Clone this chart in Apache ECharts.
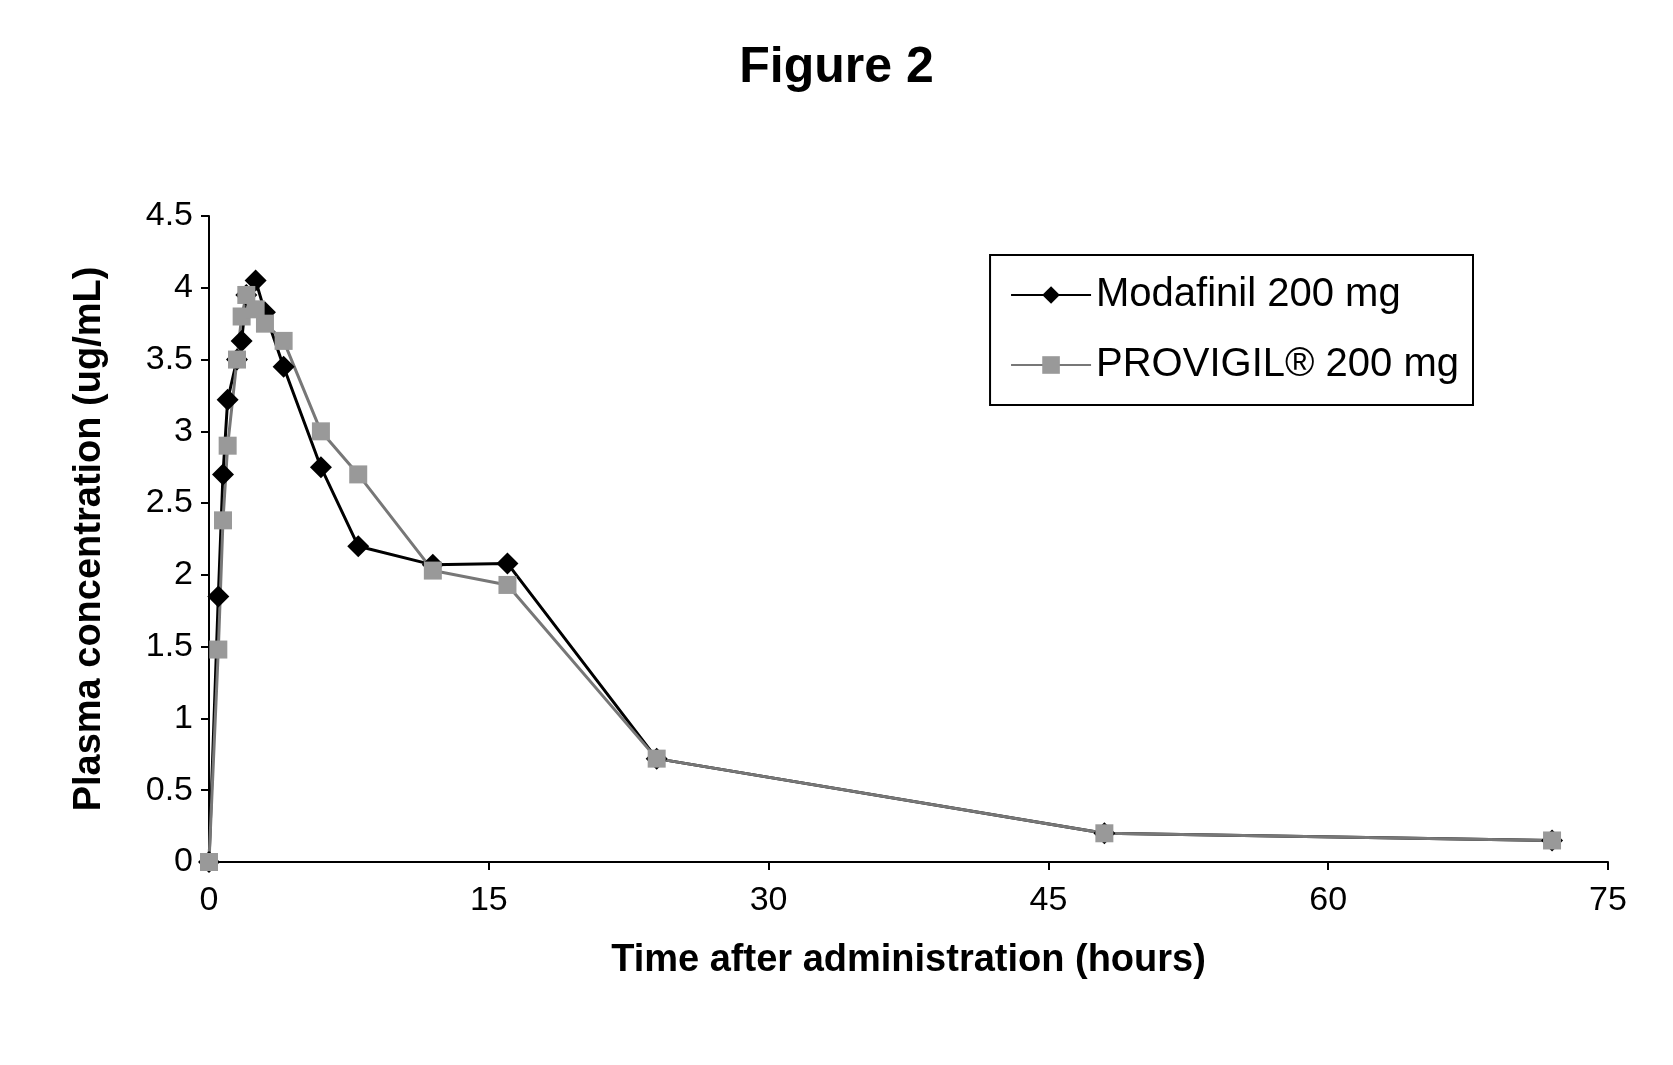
<!DOCTYPE html>
<html><head><meta charset="utf-8">
<script src="https://cdn.jsdelivr.net/npm/echarts@6/dist/echarts.min.js"></script>
<style>html,body{margin:0;background:#fff}#c{width:1673px;height:1065px}</style>
</head><body><div id="c"></div>
<script>
const modaTime = [0, 0.5, 0.75, 1, 1.5, 1.75, 2, 2.5, 3, 4, 6, 8, 12, 16, 24, 48, 72]
const modaConc = [0, 1.85, 2.7, 3.22, 3.5, 3.63, 3.95, 4.05, 3.83, 3.45, 2.75, 2.2, 2.07, 2.08, 0.72, 0.2, 0.15]
const provTime = [0, 0.5, 0.75, 1, 1.5, 1.75, 2, 2.5, 3, 4, 6, 8, 12, 16, 24, 48, 72]
const provConc = [0, 1.48, 2.38, 2.9, 3.5, 3.8, 3.95, 3.85, 3.75, 3.63, 3.0, 2.7, 2.03, 1.93, 0.72, 0.2, 0.15]

const zip = (xs, ys) => xs.map((x, i) => [x, ys[i]])
const font = 'Liberation Sans'

const chart = echarts.init(document.getElementById('c'))
chart.setOption({
  animation: false,
  textStyle: { fontFamily: font, color: '#000' },
  title: {
    text: 'Figure 2', left: 'center', top: 38,
    textStyle: { fontSize: 50, fontWeight: 'bold', fontFamily: font, color: '#000' },
  },
  legend: {
    right: 200, top: 255, orient: 'vertical',
    borderColor: '#000', borderWidth: 2, padding: [20, 14, 20, 20],
    itemGap: 30, itemWidth: 80, itemHeight: 22,
    textStyle: { fontSize: 40, fontFamily: font, color: '#000' },
    data: ['Modafinil 200 mg', 'PROVIGIL® 200 mg'],
  },
  grid: { left: 209, right: 65, top: 216, bottom: 203 },
  xAxis: {
    type: 'value', min: 0, max: 75, interval: 15,
    name: 'Time after administration (hours)', nameLocation: 'middle', nameGap: 80,
    nameTextStyle: { fontSize: 38, fontWeight: 'bold', fontFamily: font, color: '#000' },
    axisLine: { lineStyle: { color: '#000', width: 2 } },
    axisTick: { lineStyle: { color: '#000', width: 2 }, length: 8 },
    axisLabel: { fontSize: 34, color: '#000', margin: 22 },
    splitLine: { show: false },
  },
  yAxis: {
    type: 'value', min: 0, max: 4.5, interval: 0.5,
    name: 'Plasma concentration (ug/mL)', nameLocation: 'middle', nameGap: 100,
    nameTextStyle: { fontSize: 38, fontWeight: 'bold', fontFamily: font, color: '#000' },
    axisLine: { show: true, lineStyle: { color: '#000', width: 2 } },
    axisTick: { show: true, lineStyle: { color: '#000', width: 2 }, length: 8 },
    axisLabel: { fontSize: 34, color: '#000', margin: 16 },
    splitLine: { show: false },
  },
  series: [
    {
      name: 'Modafinil 200 mg', type: 'line', data: zip(modaTime, modaConc),
      symbol: 'diamond', symbolSize: 22,
      lineStyle: { color: '#000', width: 3 }, itemStyle: { color: '#000' },
    },
    {
      name: 'PROVIGIL® 200 mg', type: 'line', data: zip(provTime, provConc),
      symbol: 'rect', symbolSize: 18,
      lineStyle: { color: '#777', width: 3 }, itemStyle: { color: '#999' },
    },
  ],
})
</script></body></html>
